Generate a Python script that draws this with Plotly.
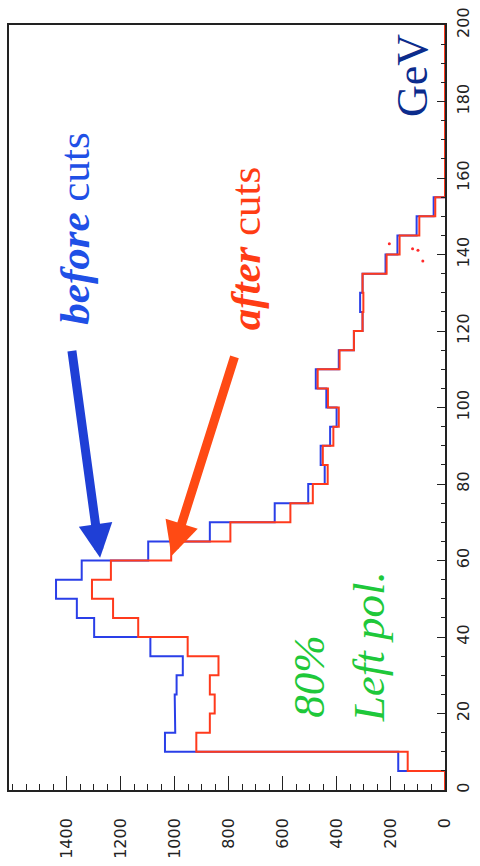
import plotly.graph_objects as go

# Energy histogram (5 GeV bins), counts before and after selection cuts
bin_lo = list(range(0, 200, 5))
bin_width = 5
before_cuts = [0, 173, 1036, 998, 1000, 993, 970, 1090, 1298, 1362, 1439, 1344,
               1098, 870, 630, 506, 445, 460, 425, 401, 439, 478, 393, 337,
               305, 314, 305, 220, 176, 105, 42, 0, 0, 0, 0, 0, 0, 0, 0, 0]
after_cuts = [0, 138, 920, 870, 852, 870, 838, 952, 1135, 1228, 1306, 1236,
              1013, 794, 572, 489, 434, 452, 413, 393, 433, 471, 390, 337,
              305, 302, 305, 216, 168, 95, 36, 0, 0, 0, 0, 0, 0, 0, 0, 0]

# A few isolated entries in the tail
tail_counts = [206, 120, 100, 82]
tail_gev = [142.8, 141.5, 141.1, 138.3]

count_ticks = [0, 200, 400, 600, 800, 1000, 1200, 1400]
count_minor = list(range(0, 1601, 50))
gev_ticks = list(range(0, 201, 20))
gev_minor = list(range(0, 201, 5))


def steps(values):
    xs, ys = [], []
    for lo, v in zip(bin_lo, values):
        xs += [v, v]
        ys += [lo, lo + bin_width]
    return xs, ys


fig = go.Figure()

bx, by = steps(before_cuts)
fig.add_trace(go.Scatter(x=bx, y=by, mode="lines",
                         line=dict(color="#2a3fe8", width=2),
                         name="before cuts", hoverinfo="skip"))
ax_, ay_ = steps(after_cuts)
fig.add_trace(go.Scatter(x=ax_, y=ay_, mode="lines",
                         line=dict(color="#ff3a1c", width=2),
                         name="after cuts", hoverinfo="skip"))
fig.add_trace(go.Scatter(x=tail_counts, y=tail_gev, mode="markers",
                         marker=dict(color="#ff2a2a", size=3),
                         hoverinfo="skip"))

serif = "Liberation Serif"

# Arrows pointing at the two peaks
fig.add_annotation(x=1276, y=60.7, ax=1381, ay=115.2, xref="x", yref="y",
                   axref="x", ayref="y", showarrow=True, arrowhead=2,
                   arrowsize=0.75, arrowwidth=9, arrowcolor="#1f3fd6", text="")
fig.add_annotation(x=1012, y=61.2, ax=777, ay=113.6, xref="x", yref="y",
                   axref="x", ayref="y", showarrow=True, arrowhead=2,
                   arrowsize=0.75, arrowwidth=9, arrowcolor="#ff4a14", text="")

fig.add_annotation(x=1372, y=146.8, text="<b><i>before</i></b> cuts",
                   showarrow=False, textangle=-90,
                   font=dict(family=serif, size=43, color="#1f50e6"))
fig.add_annotation(x=740, y=141.6, text="<b><i>after</i></b> cuts",
                   showarrow=False, textangle=-90,
                   font=dict(family=serif, size=43, color="#ff3c14"))
fig.add_annotation(x=504, y=29.8, text="<i>80%</i>",
                   showarrow=False, textangle=-90,
                   font=dict(family=serif, size=45, color="#1ec83a"))
fig.add_annotation(x=282, y=37.5, text="<i>Left pol.</i>",
                   showarrow=False, textangle=-90,
                   font=dict(family=serif, size=45, color="#1ec83a"))
fig.add_annotation(x=120, y=186.8, text="GeV",
                   showarrow=False, textangle=-90,
                   font=dict(family=serif, size=44, color="#0c2c8c"))

axis_color = "#222222"
tick_font = dict(family="DejaVu Sans", size=16, color="#222222")

fig.update_layout(
    width=480, height=866,
    margin=dict(l=7, r=14, t=20, b=75),
    paper_bgcolor="white", plot_bgcolor="white",
    showlegend=False,
    xaxis=dict(range=[1613, 0], tickmode="array", tickvals=count_ticks,
               ticks="inside", ticklen=14, tickwidth=1.2, tickcolor=axis_color,
               minor=dict(tickmode="array", tickvals=count_minor, ticks="inside",
                          ticklen=6, tickwidth=1, tickcolor=axis_color),
               showline=True, linecolor=axis_color, linewidth=1.5, mirror=True,
               showgrid=False, zeroline=False, tickangle=-90,
               tickfont=tick_font, ticklabelstandoff=20),
    yaxis=dict(range=[0, 200], side="right", tickmode="array",
               tickvals=gev_ticks, ticks="inside", ticklen=8, tickwidth=1.2,
               tickcolor=axis_color,
               minor=dict(tickmode="array", tickvals=gev_minor, ticks="inside",
                          ticklen=4, tickwidth=1, tickcolor=axis_color),
               showline=True, linecolor=axis_color, linewidth=1.5, mirror=True,
               showgrid=False, zeroline=False, tickangle=-90,
               tickfont=tick_font, ticklabelstandoff=3),
)

fig.write_html("out.html")
